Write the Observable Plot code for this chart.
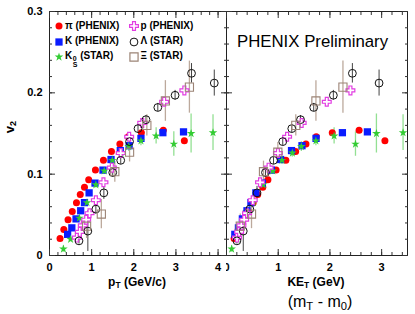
<!DOCTYPE html>
<html><head><meta charset="utf-8">
<script src="https://cdn.jsdelivr.net/npm/d3@7"></script>
<script src="https://cdn.jsdelivr.net/npm/@observablehq/plot@0.6"></script>
<style>
body{margin:0;background:#fff;font-family:"Liberation Sans",Arial,sans-serif;}
#wrap{position:relative;width:415px;height:314px;overflow:hidden;background:#fff;}
#left{position:absolute;left:0;top:0;width:226px;height:314px;}
#right{position:absolute;left:226px;top:0;width:182px;height:314px;overflow:hidden;}
.lab{position:absolute;color:#000;white-space:nowrap;}
.b{font-weight:bold;}
.leg{position:absolute;font-weight:bold;font-size:10px;line-height:12px;white-space:nowrap;}
.ss{display:inline-flex;flex-direction:column;font-size:7px;line-height:6px;vertical-align:-2px;margin-left:0.5px;}
sub.s{font-size:0.7em;vertical-align:-0.25em;line-height:0;}
</style></head><body>
<div id="wrap">
  <div id="left"></div>
  <div id="right"></div>
  <div id="legend"></div>
  <div class="lab" style="left:237px;top:32px;font-size:16.8px;line-height:19px;">PHENIX Preliminary</div>
  <div class="lab b" style="left:4px;top:119px;font-size:13px;line-height:16px;transform:rotate(-90deg);transform-origin:center;">v<sub class="s">2</sub></div>
  <div class="lab b" style="left:137px;top:275px;font-size:12px;line-height:14px;transform:translateX(-50%);">p<sub class="s">T</sub> (GeV/c)</div>
  <div class="lab b" style="left:316px;top:275px;font-size:12px;line-height:14px;transform:translateX(-50%);">KE<sub class="s">T</sub> (GeV)</div>
  <div class="lab" style="left:320px;top:293px;font-size:16px;line-height:18px;transform:translateX(-50%);">(m<sub class="s">T</sub> - m<sub class="s">0</sub>)</div>
</div>
<script>
// ---- data ----
const masses = {pi: 0.13957, K: 0.49368, K0S: 0.49761, p: 0.93827, Lambda: 1.11568, Xi: 1.32171};

const piPt = [0.25,0.34,0.44,0.54,0.64,0.73,0.83,0.93,1.09,1.28,1.47,1.67,1.87,2.18,2.70,3.20];
const piV2 = [0.021,0.032,0.044,0.054,0.065,0.075,0.084,0.093,0.105,0.117,0.128,0.137,0.146,0.151,0.154,0.141];

const kPt = [0.43,0.53,0.63,0.74,0.83,0.94,1.08,1.27,1.46,1.68,1.89,2.17,2.69,3.18];
const kV2 = [0.026,0.034,0.045,0.055,0.065,0.077,0.089,0.105,0.118,0.129,0.135,0.144,0.151,0.152];

const k0sPt = [0.33,0.50,0.71,0.89,1.10,1.30,1.49,1.70,1.88,2.17,2.53,2.95,3.36,3.88];
const k0sV2 = [0.008,0.020,0.046,0.065,0.087,0.104,0.117,0.126,0.134,0.141,0.147,0.137,0.150,0.151];
const k0sErr = [0.004,0.003,0.003,0.003,0.004,0.004,0.005,0.005,0.006,0.006,0.010,0.015,0.024,0.022];

const pPt = [0.65,0.72,0.79,0.87,0.95,1.10,1.28,1.48,1.69,1.89,2.20,2.72,3.20];
const pV2 = [0.022,0.029,0.037,0.044,0.052,0.068,0.090,0.108,0.126,0.146,0.163,0.189,0.203];

const lamPt = [0.70,0.91,1.10,1.29,1.50,1.69,1.90,2.10,2.29,2.57,2.98,3.37,3.91];
const lamV2 = [0.018,0.030,0.057,0.077,0.102,0.117,0.140,0.156,0.167,0.182,0.197,0.224,0.212];
const lamErr = [0.004,0.025,0.006,0.008,0.006,0.005,0.005,0.005,0.005,0.005,0.006,0.012,0.016];

const xiPt = [0.88,1.23,1.55,1.90,2.31,2.75,3.32];
const xiV2 = [0.036,0.051,0.103,0.127,0.160,0.190,0.207];
const xiErr = [0.015,0.018,0.013,0.012,0.013,0.025,0.032];

const yMajor = [0, 0.1, 0.2, 0.3];
const xMajorLeft = [0, 1, 2, 3, 4];
const xMajorRight = [0, 1, 2, 3];

// ---- build tables ----
function table(species, pt, v2, err) {
  const m = masses[species];
  return pt.map((x, i) => ({species, pt: x, v2: v2[i], err: err ? err[i] : 0,
    ke: Math.sqrt(x * x + m * m) - m}));
}
const pi = table("pi", piPt, piV2);
const K = table("K", kPt, kV2);
const k0s = table("K0S", k0sPt, k0sV2, k0sErr);
const pr = table("p", pPt, pV2);
const lam = table("Lambda", lamPt, lamV2, lamErr);
const xi = table("Xi", xiPt, xiV2, xiErr);

const C = {pi: "#ff0000", K: "#0a1cff", k0s: "#33cc33", k0sErr: "#93e093", p: "#e23de2", lam: "#111", lamErr: "#444", xi: "#9c8476", xiErr: "#bca99c"};
const yMinor = d3.range(0, 0.3001, 0.02);

function dataMarks(xk) {
  const eb = () => ({x: xk, y1: e => e.v2 - e.err, y2: e => e.v2 + e.err});
  return [
    Plot.ruleX(k0s, {...eb(), stroke: C.k0sErr, strokeWidth: 1.3}),
    Plot.ruleX(lam, {...eb(), stroke: C.lamErr, strokeWidth: 1}),
    Plot.ruleX(xi, {...eb(), stroke: C.xiErr, strokeWidth: 1.3}),
    Plot.dot(pi, {x: xk, y: "v2", r: 3.5, fill: C.pi}),
    Plot.dot(K, {x: xk, y: "v2", symbol: "square", r: 4.1, fill: C.K}),
    Plot.dot(k0s, {x: xk, y: "v2", symbol: "star", r: 2.7, fill: C.k0s}),
    Plot.dot(pr, {x: xk, y: "v2", symbol: "cross", r: 3.7, fill: "white", stroke: C.p, strokeWidth: 1.2}),
    Plot.dot(lam, {x: xk, y: "v2", r: 3.9, fill: "none", stroke: C.lam, strokeWidth: 1}),
    Plot.dot(xi, {x: xk, y: "v2", symbol: "square", r: 4.6, fill: "none", stroke: C.xi, strokeWidth: 1.1})
  ];
}

function tickMarks(xMajor, xMinor, withYLabels) {
  const t = "#333";
  const marks = [
    Plot.axisY({anchor: "left", ticks: yMajor, tickSize: -6, fill: "none", stroke: t, label: null}),
    Plot.axisY({anchor: "left", ticks: yMinor, tickSize: -3, fill: "none", stroke: t, label: null}),
    Plot.axisY({anchor: "right", ticks: yMajor, tickSize: -6, fill: "none", stroke: t, label: null}),
    Plot.axisY({anchor: "right", ticks: yMinor, tickSize: -3, fill: "none", stroke: t, label: null}),
    Plot.axisX({anchor: "bottom", ticks: xMajor, tickSize: -6, fill: "none", stroke: t, label: null}),
    Plot.axisX({anchor: "bottom", ticks: xMinor, tickSize: -3, fill: "none", stroke: t, label: null}),
    Plot.axisX({anchor: "top", ticks: xMajor, tickSize: -6, fill: "none", stroke: t, label: null}),
    Plot.axisX({anchor: "top", ticks: xMinor, tickSize: -3, fill: "none", stroke: t, label: null}),
    Plot.axisX({anchor: "bottom", ticks: xMajor, tickSize: 0, tickPadding: 8, tickFormat: d3.format("d"), label: null, fill: "#000"})
  ];
  if (withYLabels) marks.push(Plot.axisY({anchor: "left", ticks: yMajor, tickSize: 0, tickPadding: 7,
    tickFormat: d => d === 0 ? "0" : d3.format(".1f")(d), label: null, fill: "#000"}));
  return marks;
}

const style = {fontFamily: "'Liberation Sans', Arial, sans-serif", fontSize: "11px", fontWeight: "bold", background: "transparent", color: "#000"};

const leftPlot = Plot.plot({
  width: 226, height: 314, marginLeft: 49, marginRight: 0, marginTop: 11, marginBottom: 59,
  x: {domain: [0, 4.2]}, y: {domain: [0, 0.3]}, style,
  marks: [
    Plot.frame({stroke: "#222"}),
    ...tickMarks(xMajorLeft, d3.range(0, 4.201, 0.2), true),
    ...dataMarks("pt")
  ]
});
document.getElementById("left").append(leftPlot);

const rightPlot = Plot.plot({
  width: 182, height: 314, marginLeft: 0, marginRight: 1, marginTop: 11, marginBottom: 59,
  x: {domain: [0, 3.5]}, y: {domain: [0, 0.3]}, style,
  marks: [
    Plot.frame({stroke: "#222"}),
    ...tickMarks(xMajorRight, d3.range(0, 3.501, 0.2), false),
    ...dataMarks("ke")
  ]
});
document.getElementById("right").append(rightPlot);

// ---- legend (HTML overlay) ----
const legendItems = [
  {col: 0, row: 0, sym: "circle", fill: C.pi, stroke: "none", r: 3.5, html: "π (PHENIX)"},
  {col: 0, row: 1, sym: "square", fill: C.K, stroke: "none", r: 4.1, html: "K (PHENIX)"},
  {col: 0, row: 2, sym: "star", fill: C.k0s, stroke: "none", r: 2.7, html: 'K<span class="ss"><span>0</span><span>S</span></span> (STAR)'},
  {col: 1, row: 0, sym: "cross", fill: "white", stroke: C.p, r: 3.7, html: "p (PHENIX)"},
  {col: 1, row: 1, sym: "circle", fill: "none", stroke: C.lam, r: 3.9, html: "Λ (STAR)"},
  {col: 1, row: 2, sym: "square", fill: "none", stroke: C.xi, r: 4.6, html: "Ξ (STAR)"}
];
const symMap = {circle: d3.symbolCircle, square: d3.symbolSquare, star: d3.symbolStar, cross: d3.symbolCross};
const leg = document.getElementById("legend");
const colX = [58.5, 134], rowY = [26, 41.5, 56.5];
legendItems.forEach((it) => {
  const cx = colX[it.col], cy = rowY[it.row];
  const svg = d3.create("svg").attr("width", 14).attr("height", 14)
    .style("position", "absolute").style("left", (cx - 7) + "px").style("top", (cy - 7) + "px");
  if (it.sym === "circle") svg.append("circle").attr("cx", 7).attr("cy", 7).attr("r", it.r)
    .attr("fill", it.fill).attr("stroke", it.stroke).attr("stroke-width", 1);
  else svg.append("path").attr("d", d3.symbol(symMap[it.sym], Math.PI * it.r * it.r)()).attr("transform", "translate(7,7)")
    .attr("fill", it.fill).attr("stroke", it.stroke).attr("stroke-width", 1.2);
  leg.append(svg.node());
  const d = document.createElement("div");
  d.className = "leg";
  d.style.left = (cx + 6.5) + "px";
  d.style.top = (cy - 6.5) + "px";
  d.innerHTML = it.html;
  leg.append(d);
});
</script>
</body></html>
